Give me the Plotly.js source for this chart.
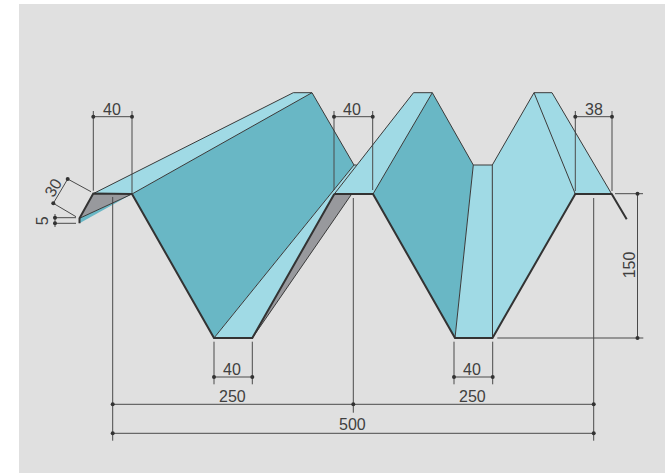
<!DOCTYPE html>
<html><head><meta charset="utf-8">
<script src="https://cdn.plot.ly/plotly-3.0.1.min.js"></script>
<style>html,body{margin:0;padding:0;background:#fff}#c{width:665px;height:473px}</style>
</head><body><div id="c"></div>
<script>
// Profile section, drawing units
const lipLightX=[79.5,132,79.5], lipLightY=[218.3,194,223.3];
const lipGreyX=[93.3,132,79.5], lipGreyY=[193.6,194,218.3];
const flangeX=[93.3,293.3,312,132], flangeY=[193.6,92.7,92.7,194];
const web1X=[132,312,354,214], web1Y=[194,92.7,165,338];
const stripX=[214,252.3,334.3,356.7,354], stripY=[338,338,194,165,165];
const greyX=[252.3,334.3,351.7], greyY=[338,194,194];
const panel2X=[334.3,373,432.3,413.5], panel2Y=[194,194,92.7,92.7];
const web2X=[373,432.3,473.3,455], web2Y=[194,92.7,165,338];
const panel3X=[473.3,492.3,492.5,455], panel3Y=[165,165,338,338];
const panel4X=[492.3,534,575.3,492.5], panel4Y=[165,92.7,194,338];
const panel5X=[534,552,611.7,575.3], panel5Y=[92.7,92.7,194,194];

const thickX=[132,214,252.3,334.3,null,334.3,373,455,492.5,575.3,611.7,626.7,null,132,93.3,79.5,79.5];
const thickY=[194,338,338,194,null,194,194,338,338,194,194,219.3,null,194,193.6,218.3,223.3];
const thinX=[93.3,293.3,312,354,356.7,null,132,312,null,214,354,null,79.5,132,null,252.3,351.7,null,334.3,413.5,432.3,473.3,492.3,534,552,611.7,null,373,432.3,null,473.3,455,null,492.3,492.5,null,534,575.3];
const thinY=[193.6,92.7,92.7,165,165,null,194,92.7,null,338,165,null,218.3,194,null,338,194,null,194,92.7,92.7,165,165,92.7,92.7,194,null,194,92.7,null,165,338,null,165,338,null,92.7,194];

// Dimension lines
const dimX=[93.3,93.3,null,132,132,null,93.3,132,null,334,334,null,372.7,372.7,null,334,372.7,null,575.3,575.3,null,612,612,null,575.3,612,null,
 214,214,null,252.3,252.3,null,214,252.3,null,454,454,null,492.7,492.7,null,454,492.7,null,
 112.7,112.7,null,353.3,353.3,null,593.7,593.7,null,112.7,593.7,null,112.7,593.7,null,
 637.5,637.5,null,615,643,null,497.3,643.3,null,
 67.7,53.3,null,67.7,91,null,53.3,76,null,53.3,76,null,53.3,76,null,55,55];
const dimY=[111,190.7,null,111,194,null,116.7,116.7,null,111,190,null,111,190,null,116.7,116.7,null,111,191,null,111,191,null,116.7,116.7,null,
 341.7,384.3,null,341.7,384.3,null,377,377,null,341.7,384.3,null,341.7,384.3,null,377,377,null,
 197,440.7,null,198,412.7,null,198,440.7,null,404.3,404.3,null,433.3,433.3,null,
 193.7,338,null,193.7,193.7,null,338,338,null,
 179,203.3,null,179,191.7,null,203.3,216.7,null,217.7,217.7,null,223.3,223.3,null,214,227];
const dotX=[93.3,132,334,372.7,575.3,612,214,252.3,454,492.7,112.7,353.3,593.7,112.7,593.7,637.5,637.5,67.7,53.3,55,55];
const dotY=[116.7,116.7,116.7,116.7,116.7,116.7,377,377,377,377,404.3,404.3,404.3,433.3,433.3,193.7,338,179,203.3,217.7,223.3];

const labels=["40","40","38","40","40","250","250","500","150","30","5"];
const labelX=[111.7,352.3,593.7,232.3,472.3,232.3,472.3,352.3,629.3,53.3,42.3];
const labelY=[109.3,109.3,109.3,369.3,369.3,396.3,396.3,424.3,265,187.3,221];
const labelAngle=[0,0,0,0,0,0,0,0,-90,-60,-90];

const LIGHT="#A0DAE5",TEAL="#69B7C5",GREY="#98999D",INK="#3A3A3A";
const poly=(x,y,c)=>({type:"scatter",mode:"lines",x,y,fill:"toself",fillcolor:c,line:{width:0,color:c},hoverinfo:"skip"});
const traces=[
 poly(lipLightX,lipLightY,"#69B7C5"),poly(lipGreyX,lipGreyY,GREY),poly(flangeX,flangeY,LIGHT),poly(web1X,web1Y,TEAL),
 poly(stripX,stripY,LIGHT),poly(greyX,greyY,GREY),poly(panel2X,panel2Y,LIGHT),poly(web2X,web2Y,TEAL),
 poly(panel3X,panel3Y,LIGHT),poly(panel4X,panel4Y,LIGHT),poly(panel5X,panel5Y,LIGHT),
 {type:"scatter",mode:"lines",x:dimX,y:dimY,line:{color:"#4A4A4A",width:1},connectgaps:false,hoverinfo:"skip"},
 {type:"scatter",mode:"lines",x:thinX,y:thinY,line:{color:INK,width:1},connectgaps:false,hoverinfo:"skip"},
 {type:"scatter",mode:"lines",x:thickX,y:thickY,line:{color:"#333333",width:2},connectgaps:false,hoverinfo:"skip"},
 {type:"scatter",mode:"markers",x:dotX,y:dotY,marker:{color:"#333333",size:4},hoverinfo:"skip"}
];
const layout={width:665,height:473,margin:{l:19,r:0,t:4,b:0,pad:0},paper_bgcolor:"#FFFFFF",plot_bgcolor:"#E0E0E0",showlegend:false,
 xaxis:{range:[19,665],visible:false,fixedrange:true},
 yaxis:{range:[473,4],visible:false,fixedrange:true},
 annotations:labels.map((t,i)=>({text:t,x:labelX[i],y:labelY[i],xref:"x",yref:"y",showarrow:false,textangle:labelAngle[i],
  xanchor:"center",yanchor:"middle",font:{family:"Liberation Sans",size:16,color:"#404040"}}))};
Plotly.newPlot("c",traces,layout,{displayModeBar:false,staticPlot:true});
</script></body></html>
